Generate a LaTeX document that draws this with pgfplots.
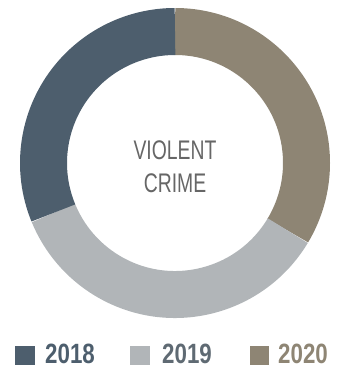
\documentclass[border=0pt]{standalone}
\usepackage{pgfplots}
\pgfplotsset{compat=1.18}
\usepackage{pgfplotstable}
\usepackage{fontspec}
\setmainfont{Liberation Sans}
\definecolor{c2018}{HTML}{4D5E6D}
\definecolor{c2019}{HTML}{B1B5B8}
\definecolor{c2020}{HTML}{8E8574}
\definecolor{ctext}{HTML}{666666}
\definecolor{c2019t}{HTML}{5F6A73}

\pgfplotstableread{
year value
2018 31.2
2019 35.2
2020 33.6
}\crimedata

\pgfplotstablegetelem{0}{value}\of\crimedata \let\vA\pgfplotsretval
\pgfplotstablegetelem{1}{value}\of\crimedata \let\vB\pgfplotsretval
\pgfplotstablegetelem{2}{value}\of\crimedata \let\vC\pgfplotsretval
\pgfmathsetmacro\total{\vA+\vB+\vC}
\pgfmathsetmacro\aC{90-360*\vC/\total}
\pgfmathsetmacro\aB{\aC-360*\vB/\total}
\pgfmathsetmacro\aA{\aB-360*\vA/\total}

\begin{document}
\begin{tikzpicture}
\begin{axis}[
  x=1bp, y=1bp,
  xmin=0, xmax=341, ymin=0, ymax=367,
  hide axis, clip=false,
]
\path (axis cs:0,0) rectangle (axis cs:341,367);
% donut ring (mid radius 131.5, width 47)
\draw[c2020, line width=47bp] (axis cs:175,204) ++(90:131.5bp) arc[start angle=90, end angle=\aC, radius=131.5bp];
\draw[c2019, line width=47bp] (axis cs:175,204) ++(\aC:131.5bp) arc[start angle=\aC, end angle=\aB, radius=131.5bp];
\draw[c2018, line width=47bp] (axis cs:175,204) ++(\aB:131.5bp) arc[start angle=\aB, end angle=\aA, radius=131.5bp];
% center label
\node[anchor=base, text=ctext, font=\fontsize{27}{30}\selectfont, inner sep=0pt] at (axis cs:175,208) {\scalebox{0.72}[1]{VIOLENT}};
\node[anchor=base, text=ctext, font=\fontsize{27}{30}\selectfont, inner sep=0pt] at (axis cs:175,175) {\scalebox{0.72}[1]{CRIME}};
% legend
\fill[c2018] (axis cs:15,2) rectangle (axis cs:35,21);
\fill[c2019] (axis cs:130,2) rectangle (axis cs:150,21);
\fill[c2020] (axis cs:250,2) rectangle (axis cs:269,21);
\node[anchor=base west, text=c2018, font=\fontsize{28}{30}\selectfont\bfseries, inner sep=0pt] at (axis cs:45,4) {\scalebox{0.8}[1]{2018}};
\node[anchor=base west, text=c2019t, font=\fontsize{28}{30}\selectfont\bfseries, inner sep=0pt] at (axis cs:162,4) {\scalebox{0.8}[1]{2019}};
\node[anchor=base west, text=c2020, font=\fontsize{28}{30}\selectfont\bfseries, inner sep=0pt] at (axis cs:278,4) {\scalebox{0.8}[1]{2020}};
\end{axis}
\end{tikzpicture}
\end{document}
